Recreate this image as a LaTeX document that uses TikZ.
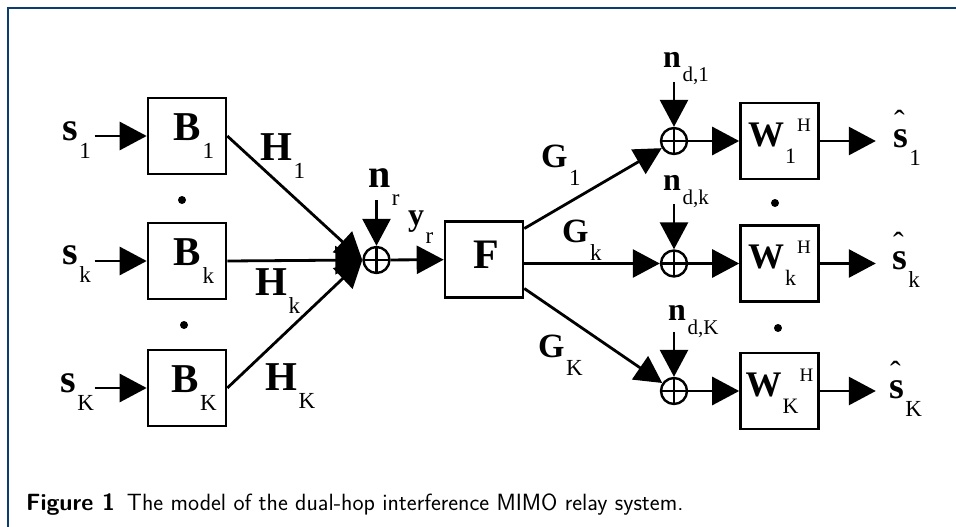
\documentclass[tikz,border=0pt]{standalone}
\usepackage{fontspec}
\setmainfont{Liberation Serif}
\usepackage{tikz}
\usetikzlibrary{arrows.meta,positioning,calc}

\definecolor{framecol}{HTML}{0B3D6E}

% bold symbol with a lowered index
\newcommand{\vsym}[3][40]{{\fontsize{#1}{#1}\selectfont\bfseries #2}\kern1.5pt\raisebox{-18pt}{\fontsize{23}{23}\selectfont #3}}
% receive filter: index, then hermitian mark
\newcommand{\wsym}[1]{{\fontsize{36}{36}\selectfont\bfseries W}\kern1pt\raisebox{-17pt}{\fontsize{22}{22}\selectfont #1}\kern1pt\raisebox{15pt}{\fontsize{19}{19}\selectfont H}}
% destination noise
\newcommand{\nsym}[1]{{\fontsize{32}{32}\selectfont\bfseries n}\kern1.5pt\raisebox{-14pt}{\fontsize{21}{21}\selectfont #1}}
% estimate with a thin hat
\newcommand{\hsym}[1]{\rlap{\kern1pt\raisebox{15pt}{\fontsize{32}{32}\selectfont ˆ}}\vsym[38]{s}{#1}}

\begin{document}
\begin{tikzpicture}[x=1pt, y=-1pt,
    font=\fontsize{20}{20}\selectfont,
    blockbox/.style={draw, line width=2.6pt, minimum width=78pt, minimum height=76pt, inner sep=0pt},
    sumnode/.style={draw, circle, line width=2.4pt, minimum size=26pt, inner sep=0pt,
        path picture={\draw[line width=2.2pt] (path picture bounding box.north) -- (path picture bounding box.south)
            (path picture bounding box.west) -- (path picture bounding box.east);}},
    lbl/.style={inner sep=0pt, anchor=base west},
    dotnode/.style={circle, fill, inner sep=0pt, minimum size=8pt},
    arr/.style={-{Triangle[length=27pt,width=28pt]}, line width=2.8pt},
    pageframe/.style={draw=framecol, line width=2pt}
    ]
\useasboundingbox (0,0) rectangle (956,527);
\draw[pageframe] (8,527) -- (8,8) -- (956,8);
% sources and precoders
\node[lbl]      (s1) at (62,140)  {\vsym{s}{1}};
\node[lbl]      (sk) at (62,264)  {\vsym{s}{k}};
\node[lbl]      (sK) at (60,392)  {\vsym{s}{K}};
\node[blockbox] (B1) at (187,136) {\kern14pt\vsym[41]{B}{1}};
\node[blockbox] (Bk) at (187,261) {\kern14pt\vsym[41]{B}{k}};
\node[blockbox] (BK) at (187,388) {\kern14pt\vsym[41]{B}{K}};
\node[dotnode]  (dB1) at (182,200) {};
\node[dotnode]  (dB2) at (184,325) {};
% first hop channels
\node[lbl] (H1) at (260,160) {\vsym[41]{H}{1}};
\node[lbl] (Hk) at (255,295) {\vsym[41]{H}{k}};
\node[lbl] (HK) at (265,390) {\vsym[41]{H}{K}};
% relay
\node[sumnode]  (sr) at (376.5,260) {};
\node[lbl]      (nr) at (368,187) {\vsym{n}{r}};
\node[lbl]      (yr) at (408,225) {\vsym[32]{y}{r}};
\node[blockbox] (F)  at (484,259.5) {\kern5pt\raisebox{0pt}[\height][10pt]{\fontsize{42}{42}\selectfont\bfseries F}};
% second hop channels
\node[lbl] (G1) at (541,167) {\vsym[34]{G}{1}};
\node[lbl] (Gk) at (562,242) {\vsym[34]{G}{k}};
\node[lbl] (GK) at (538,357) {\vsym[34]{G}{K}};
% destinations
\node[sumnode]  (c1) at (674,141)   {};
\node[sumnode]  (ck) at (674,263.5) {};
\node[sumnode]  (cK) at (674,391)   {};
\node[lbl]      (nd1) at (663,67)  {\nsym{d,1}};
\node[lbl]      (ndk) at (663,190) {\nsym{d,k}};
\node[lbl]      (ndK) at (668,320) {\nsym{d,K}};
\node[blockbox] (W1) at (779.5,141)   {\wsym{1}};
\node[blockbox] (Wk) at (779.5,263.5) {\wsym{k}};
\node[blockbox] (WK) at (779.5,391)   {\wsym{K}};
\node[dotnode]  (dW1) at (775,203) {};
\node[dotnode]  (dW2) at (778,328) {};
\node[lbl]      (e1) at (893,147) {\hsym{1}};
\node[lbl]      (ek) at (892,269) {\hsym{k}};
\node[lbl]      (eK) at (889,398) {\hsym{K}};
% caption
\node[lbl, font=\sffamily\fontsize{23.5}{23.5}\selectfont] (cap) at (26,510)
    {\textbf{Figure 1}\hspace{12pt}The model of the dual-hop interference MIMO relay system.};
% connectors
\foreach \i in {1,k,K} \draw[arr] ([xshift=-52pt]B\i.west) -- (B\i.west);
\foreach \i in {1,k,K} \draw[arr] (B\i.east) -- (sr.west);
\draw[arr] ([yshift=46pt]sr.north) -- (sr.north);
\draw[arr] (sr) -- (F);
\draw[arr] ([yshift=31pt]F.east) -- (c1);
\draw[arr] (F.east |- ck) -- (ck);
\draw[arr] ([yshift=-29pt]F.east) -- (cK);
\foreach \i in {1,k,K} {
    \draw[arr] ([yshift=45pt]c\i.north) -- (c\i.north);
    \draw[arr] (c\i) -- (W\i);
    \draw[arr] (W\i.east) -- ([xshift=56pt]W\i.east);
}
\end{tikzpicture}
\end{document}
